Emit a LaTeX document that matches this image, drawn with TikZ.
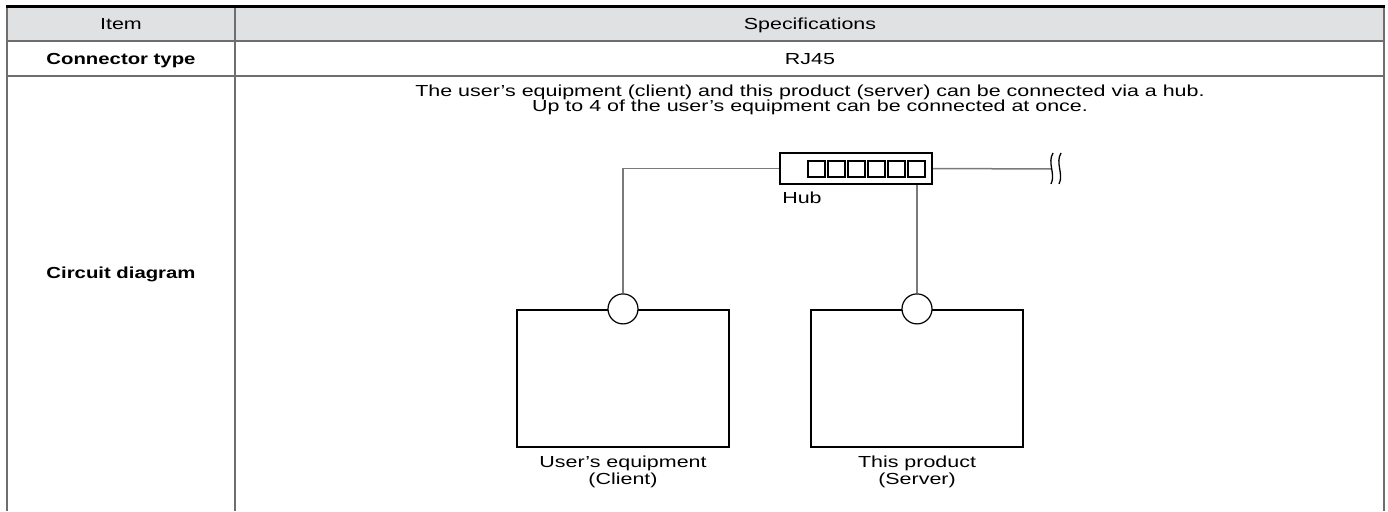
\documentclass[tikz,border=0pt]{standalone}
\usepackage{fontspec}
\setmainfont{Liberation Sans}[FakeStretch=1.34]
\newfontfamily\headfont{Liberation Sans}[FakeStretch=1.27]
\usetikzlibrary{positioning}
\definecolor{linegray}{HTML}{6E6E6E}
\definecolor{headgray}{HTML}{E0E1E2}
\definecolor{wiregray}{HTML}{7A7A7A}
\tikzset{
  cell/.style={font=\fontsize{16}{15}\selectfont, inner sep=0pt, anchor=base},
  cellbold/.style={cell, font=\fontsize{16}{15}\selectfont\headfont\bfseries},
  tabline/.style={draw=linegray, line width=2pt},
  hubbox/.style={draw, line width=2.4pt, minimum width=152pt, minimum height=31pt, inner sep=0pt},
  port/.style={draw, line width=2pt, minimum width=17pt, minimum height=16pt, inner sep=0pt},
  unitbox/.style={draw, line width=2.2pt, minimum width=212pt, minimum height=137pt, inner sep=0pt},
  jack/.style={circle, draw, line width=1.2pt, fill=white, minimum size=30pt, inner sep=0pt},
  wire/.style={draw=wiregray, line width=1.5pt},
  caption/.style={font=\fontsize{16}{17}\selectfont, align=center, inner sep=0pt},
}
\begin{document}
\begin{tikzpicture}[x=1pt, y=-1pt]
  \useasboundingbox (0,0) rectangle (1388,511);
  % table
  \fill[headgray] (7,7) rectangle (1384,41);
  \draw[tabline] (7,41) -- (1384,41);
  \draw[tabline] (7,76) -- (1384,76);
  \draw[tabline] (7,7) -- (7,511);
  \draw[tabline] (235,7) -- (235,511);
  \draw[tabline] (1384,7) -- (1384,511);
  \draw[line width=3pt] (6,7) -- (1385,7);
  \node[cell] (item) at (121,30) {Item};
  \node[cell] (spec) at (810,30) {Specifications};
  \node[cellbold] (contype) at (121,64) {Connector type};
  \node[cell] (rj) at (810,64) {RJ45};
  \node[cellbold] (circuit) at (121,278) {Circuit diagram};
  \node[cell] (descA) at (810,96) {The user’s equipment (client) and this product (server) can be connected via a hub.};
  \node[cell] (descB) at (810,111) {Up to 4 of the user’s equipment can be connected at once.};

  % hub
  \node[hubbox] (hub) at (856,168.5) {};
  \foreach \i in {0,...,5}
    \node[port] (port\i) at (816+20*\i,169) {};
  \node[cell] (hublabel) at (802,203) {Hub};

  % equipment
  \node[unitbox] (client) at (623,378.5) {};
  \node[unitbox] (server) at (917,378.5) {};
  \node[jack] (cjack) at (client.north) {};
  \node[jack] (sjack) at (server.north) {};
  \node[caption, below=8pt of client] (clientcap) {User’s equipment\\(Client)};
  \node[caption, below=8pt of server] (servercap) {This product\\(Server)};

  % wiring
  \draw[wire] (hub.west) -| (cjack.north);
  \draw[wire] (hub.south -| sjack.north) -- (sjack.north);
  \coordinate (cut) at (1051,169);
  \draw[wire] (hub.east) -- (cut);
  \draw[line width=1.3pt] (1053,153) .. controls (1047,163) and (1056,174) .. (1051,184);
  \draw[line width=1.3pt] (1061,153) .. controls (1055,163) and (1064,174) .. (1059,184);
\end{tikzpicture}
\end{document}
